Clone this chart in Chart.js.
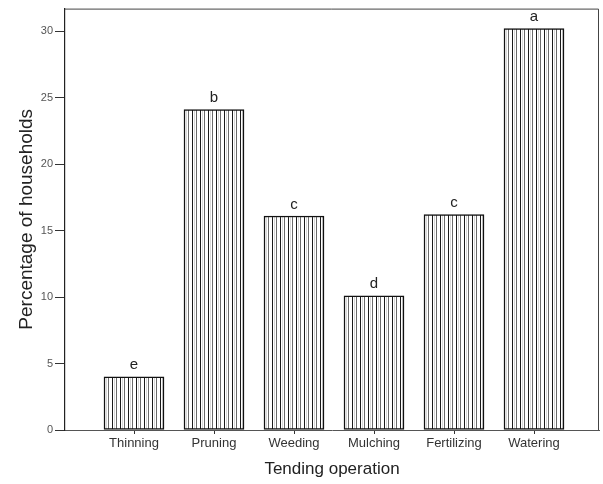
<!DOCTYPE html>
<html>
<head>
<meta charset="utf-8">
<script src="https://cdn.jsdelivr.net/npm/chart.js@4.4.1/dist/chart.umd.min.js"></script>
<style>
  html, body { margin: 0; padding: 0; background: #ffffff; }
  #wrap { width: 603px; height: 484px; }
</style>
</head>
<body>
<div id="wrap"><canvas id="chart" width="603" height="484"></canvas></div>
<script>
// Share of households carrying out each tending operation (%)
const categories = ['Thinning', 'Pruning', 'Weeding', 'Mulching', 'Fertilizing', 'Watering'];
const percentages = [4.0, 24.1, 16.1, 10.1, 16.2, 30.2];
// Letters from the mean-separation test, one per operation
const groupLetters = ['e', 'b', 'c', 'd', 'c', 'a'];
const yTickValues = [0, 5, 10, 15, 20, 25, 30];

const FONT = '"Liberation Sans", Arial, sans-serif';

// Vertical hatching used to fill the bars
function makeHatch() {
  const c = document.createElement('canvas');
  c.width = 8; c.height = 8;
  const g = c.getContext('2d');
  g.fillStyle = '#ffffff';
  g.fillRect(0, 0, 8, 8);
  g.fillStyle = '#1a1a1a'; g.fillRect(0, 0, 1, 8);
  g.fillStyle = '#d8d8d8'; g.fillRect(2, 0, 1, 8);
  g.fillStyle = '#6a6a6a'; g.fillRect(4, 0, 1, 8);
  return g.createPattern(c, 'repeat');
}
const hatch = makeHatch();

// Frame on the top and right of the plot area
const frame = {
  id: 'frame',
  afterDraw(chart) {
    const { ctx, chartArea: a } = chart;
    ctx.save();
    ctx.strokeStyle = '#444';
    ctx.lineWidth = 1;
    ctx.beginPath();
    ctx.moveTo(a.left, a.top + 0.5);
    ctx.lineTo(a.right - 0.5, a.top + 0.5);
    ctx.lineTo(a.right - 0.5, a.bottom);
    ctx.stroke();
    ctx.restore();
  }
};

// Significance letters above each bar
const letters = {
  id: 'letters',
  afterDatasetsDraw(chart) {
    const { ctx } = chart;
    const meta = chart.getDatasetMeta(0);
    ctx.save();
    ctx.fillStyle = '#222';
    ctx.font = '15px ' + FONT;
    ctx.textAlign = 'center';
    ctx.textBaseline = 'bottom';
    meta.data.forEach((bar, i) => {
      ctx.fillText(groupLetters[i], bar.x, bar.y - 4);
    });
    ctx.restore();
  }
};

new Chart(document.getElementById('chart'), {
  type: 'bar',
  data: {
    datasets: [{
      data: percentages.map((v, i) => ({ x: i, y: v })),
      backgroundColor: hatch,
      borderColor: '#111',
      borderWidth: 1.5,
      borderSkipped: false,
      barThickness: 60
    }]
  },
  options: {
    responsive: false,
    animation: false,
    devicePixelRatio: 1,
    layout: { padding: { left: 0, right: 4, top: 8, bottom: 0 } },
    plugins: {
      legend: { display: false },
      tooltip: { enabled: false }
    },
    scales: {
      x: {
        type: 'linear',
        offset: false,
        min: -0.8625,
        max: 5.8125,
        afterBuildTicks(scale) {
          scale.ticks = categories.map((_, i) => ({ value: i }));
        },
        afterFit(scale) { scale.height = 54; },
        grid: { drawOnChartArea: false, offset: false, tickLength: 4, color: '#333' },
        border: { display: true, color: '#555', width: 1 },
        ticks: {
          autoSkip: false,
          maxRotation: 0,
          padding: 2,
          color: '#333',
          font: { family: FONT, size: 13 },
          callback: (v) => categories[v] ?? ''
        },
        title: {
          display: true,
          text: 'Tending operation',
          color: '#222',
          font: { family: FONT, size: 17 },
          padding: { top: 4, bottom: 4 }
        }
      },
      y: {
        min: 0,
        max: 31.7,
        afterBuildTicks(scale) {
          scale.ticks = yTickValues.map(v => ({ value: v }));
        },
        afterFit(scale) { scale.width = 65; },
        grid: { drawOnChartArea: false, tickLength: 10, color: '#333' },
        border: { display: true, color: '#222', width: 1.2 },
        ticks: {
          padding: 2,
          color: '#555',
          font: { family: FONT, size: 11 }
        },
        title: {
          display: true,
          text: 'Percentage of households',
          color: '#222',
          font: { family: FONT, size: 19 },
          padding: { top: 15, bottom: 0 }
        }
      }
    }
  },
  plugins: [frame, letters]
});
</script>
</body>
</html>
